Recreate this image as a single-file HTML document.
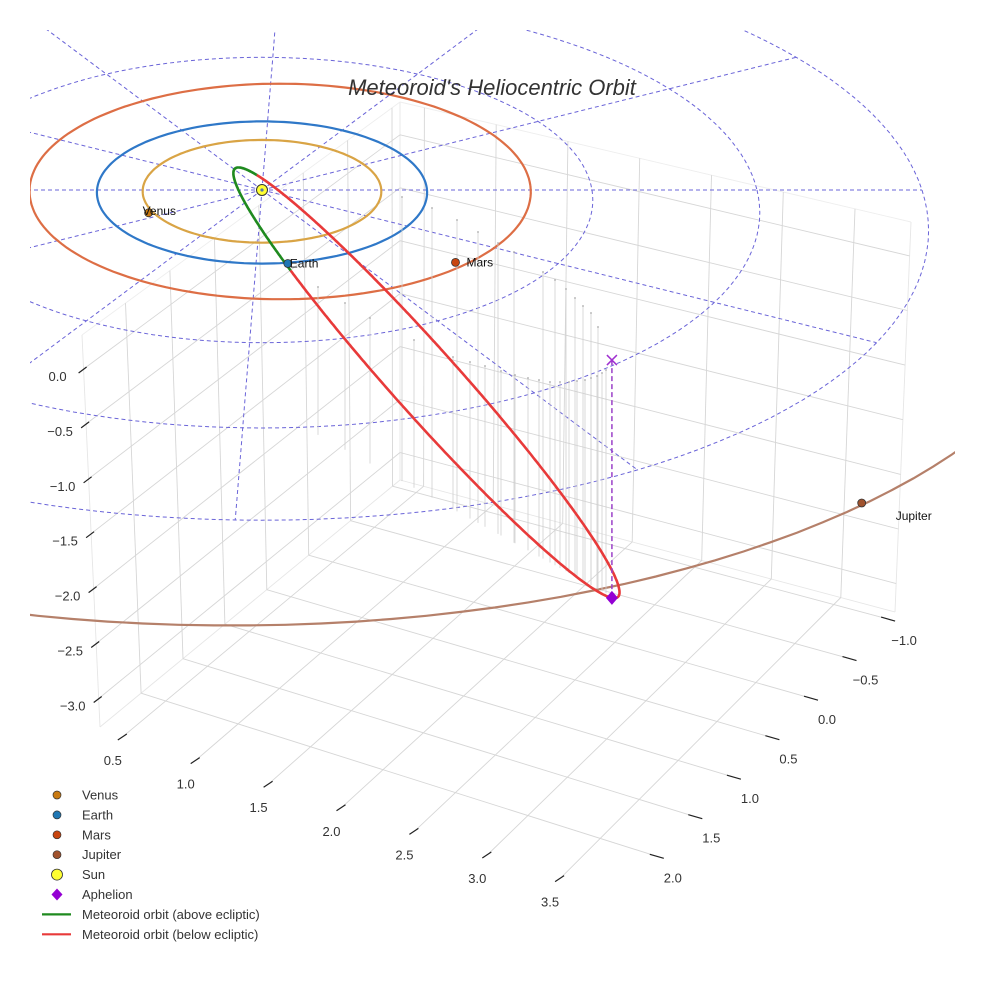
<!DOCTYPE html>
<html><head><meta charset="utf-8"><title>Meteoroid's Heliocentric Orbit</title>
<style>
html,body{margin:0;padding:0;background:#fff;}
svg{display:block;font-family:"Liberation Sans",sans-serif;}
</style></head>
<body>
<svg id="chart" width="984" height="984" viewBox="0 0 984 984" xmlns="http://www.w3.org/2000/svg">
<rect x="0" y="0" width="984" height="984" fill="#fff"/>
<defs><clipPath id="plotclip"><rect x="30" y="30" width="925" height="720"/></clipPath></defs>
<g id="box"></g>
<g id="overlay" clip-path="url(#plotclip)"></g>
<g id="marks"></g>
<text x="492" y="95" text-anchor="middle" font-size="22" font-style="italic" fill="#333">Meteoroid's Heliocentric Orbit</text>
<g id="legend"></g>
</svg>
<script>
// ---- axis data ----
const xRange = [0.33, 3.89];
const yRange = [-1.09, 2.49];
const zRange = [-3.26, 0.31];
const xTicks = [0.5, 1.0, 1.5, 2.0, 2.5, 3.0, 3.5];
const yTicks = [-1.0, -0.5, 0.0, 0.5, 1.0, 1.5, 2.0];
const zTicks = [0.0, -0.5, -1.0, -1.5, -2.0, -2.5, -3.0];
const xTickLabels = ["0.5","1.0","1.5","2.0","2.5","3.0","3.5"];
const yTickLabels = ["\u22121.0","\u22120.5","0.0","0.5","1.0","1.5","2.0"];
const zTickLabels = ["0.0","\u22120.5","\u22121.0","\u22121.5","\u22122.0","\u22122.5","\u22123.0"];
// ---- ecliptic data (AU, degrees) ----
const planetNames = ["Venus","Earth","Mars","Jupiter"];
const planetOrbitRadius = [0.723, 1.0, 1.52, 5.1];
const planetOrbitOffsetX = [0, 0, 0.11, -0.15];
const planetOrbitOffsetY = [0, 0, -0.06, -0.05];
const planetOrbitArcStart = [0, 0, 0, -15];
const planetOrbitArcEnd = [360, 360, 360, 200];
const planetLongitude = [155, 81.4, 41, 50.5];
const planetRadius = [0.75, 1.01, 1.5, 4.95];
const gridRings = [1, 2, 3, 4];
const gridSpokesDeg = [0, 30, 60, 92, 120, 150, 180, 210, 240, 272, 300, 330];
// meteoroid orbit
const perihelionDist = [0.19];
const aphelionDist = [3.294];
const aphelionDir = [0.594, 0.671, -0.444];
const nodeDir = [0.149, 0.989, 0];
// drop lines (screen estimates)
const dropTopX = [318,345,370,402,432,457,478,498,514,543,555,566,575,583,591,598,414,453,470,485,501,515,528,539,550,560,569,577,585,591,597,602,606];
const dropTopY = [287,303,318,197,208,220,232,243,252,272,280,289,298,306,313,327,340,357,362,366,371,375,378,380,382,382,382,381,380,378,376,373,370];

const NS = "http://www.w3.org/2000/svg";
function mk(tag, attrs, parent){const e=document.createElementNS(NS,tag);for(const k in attrs)e.setAttribute(k,attrs[k]);parent.appendChild(e);return e;}

// ---- 3D box projection (trilinear on screen corners) ----
const C = {"000":[400,480],"001":[400,102],"010":[100,727],"011":[82,335],
           "100":[895,612],"101":[911,222],"110":[619,895],"111":[617,495]};
function box(x,y,z){
  const u=(x-xRange[0])/(xRange[1]-xRange[0]), v=(y-yRange[0])/(yRange[1]-yRange[0]), w=(z-zRange[0])/(zRange[1]-zRange[0]);
  let sx=0, sy=0;
  for(const i of [0,1])for(const j of [0,1])for(const k of [0,1]){
    const f=(i?u:1-u)*(j?v:1-v)*(k?w:1-w); const c=C[""+i+j+k]; sx+=f*c[0]; sy+=f*c[1];
  }
  return [sx,sy];
}
const boxG=document.getElementById('box');
function gline(a,b,name,stroke,sw){
  const l=mk('line',{x1:a[0].toFixed(1),y1:a[1].toFixed(1),x2:b[0].toFixed(1),y2:b[1].toFixed(1),stroke:stroke||'#d6d6d6','stroke-width':sw||0.9},boxG);
  
  
}
const [x0,x1]=xRange,[y0,y1]=yRange,[z0,z1]=zRange;
gline(box(x0,y0,z0),box(x0,y0,z1),'pane-edge','#e6e6e6');
gline(box(x0,y1,z0),box(x0,y0,z0),'pane-edge','#e6e6e6');
gline(box(x0,y0,z0),box(x1,y0,z0),'pane-edge','#e6e6e6');
gline(box(x0,y1,z1),box(x0,y0,z1),'pane-edge','#eeeeee');
gline(box(x0,y0,z1),box(x1,y0,z1),'pane-edge','#eeeeee');
gline(box(x0,y1,z0),box(x0,y1,z1),'pane-edge','#e6e6e6');
gline(box(x1,y0,z0),box(x1,y0,z1),'pane-edge','#e6e6e6');
xTicks.forEach(t=>{ gline(box(t,y0,z0),box(t,y1,z0),'floor-grid-x'); gline(box(t,y0,z0),box(t,y0,z1),'wall-grid-x'); });
yTicks.forEach(t=>{ gline(box(x0,t,z0),box(x1,t,z0),'floor-grid-y'); gline(box(x0,t,z0),box(x0,t,z1),'wall-grid-y'); });
zTicks.forEach(t=>{ gline(box(x0,y0,t),box(x0,y1,t),'wall-grid-z'); gline(box(x0,y0,t),box(x1,y0,t),'wall-grid-z'); });
function tickText(p,txt,name){
  const t=mk('text',{x:p[0].toFixed(1),y:p[1].toFixed(1),'text-anchor':'middle','font-size':13,fill:'#333'},boxG);
  t.textContent=txt;
  
  
}
xTicks.forEach((t,i)=>{const p=box(t,y1,z0);gline([p[0]+2,p[1]-1],[p[0]-7,p[1]+5],'x-tick','#222',1.2);tickText([p[0]-12,p[1]+30],xTickLabels[i],'x-tick-label');});
yTicks.forEach((t,i)=>{const p=box(x1,t,z0);gline([p[0]-7,p[1]-2],[p[0]+7,p[1]+2],'y-tick','#222',1.2);tickText([p[0]+16,p[1]+26],yTickLabels[i],'y-tick-label');});
zTicks.forEach((t,i)=>{const p=box(x0,y1,t);gline([p[0]-5,p[1]+4],[p[0]+3,p[1]-2],'z-tick','#222',1.2);tickText([p[0]-26,p[1]+12],zTickLabels[i],'z-tick-label');});

// ---- ecliptic projection ----
function ep(X,Y,Z){const d=1-0.035*Y;return [262+165*X/d, 190+(71*Y-150*(Z||0))/d];}
const ov=document.getElementById('overlay');
function pathFrom(pts){return pts.map((p,i)=>(i?'L':'M')+p[0].toFixed(1)+' '+p[1].toFixed(1)).join(' ');}
function circlePts(r,ox,oy,a0,a1){const pts=[];for(let a=(a0||0);a<=(a1===undefined?360:a1);a+=2){const t=a*Math.PI/180;pts.push(ep(ox+r*Math.cos(t),oy+r*Math.sin(t),0));}return pts;}
gridRings.forEach(r=>{
  const p=mk('path',{d:pathFrom(circlePts(r,0,0)),fill:'none',stroke:'#6a64d8','stroke-width':1,'stroke-dasharray':'4 3'},ov);
  
  
});
gridSpokesDeg.forEach(a=>{
  const t=a*Math.PI/180, R=gridRings[gridRings.length-1];
  const pts=[];for(let k=0;k<=20;k++){const r=R*k/20;pts.push(ep(r*Math.cos(t),r*Math.sin(t),0));}
  const p=mk('path',{d:pathFrom(pts),fill:'none',stroke:'#6a64d8','stroke-width':1,'stroke-dasharray':'4 3'},ov);
  
  
});
const orbitColors=['#d9a445','#2f78c8','#dd6e45','#b5806a'];
const planetColors=['#c97a12','#1f77b4','#c8450f','#a0522d'];
planetNames.forEach((n,i)=>{
  const p=mk('path',{d:pathFrom(circlePts(planetOrbitRadius[i],planetOrbitOffsetX[i],planetOrbitOffsetY[i],planetOrbitArcStart[i],planetOrbitArcEnd[i])),fill:'none',stroke:orbitColors[i],'stroke-width':2.2},ov);
  
  
});

// ---- drop lines ----
const marks=document.getElementById('marks');
dropTopX.forEach((x,i)=>{
  const y=dropTopY[i], by=480+(x-400)*0.55;
  const l=mk('line',{x1:x,y1:y,x2:x,y2:by.toFixed(1),stroke:'#cfcfcf','stroke-width':0.8},marks);
  
  
  const c=mk('circle',{cx:x,cy:y,r:0.9,fill:'#aaa'},marks);
  
  
});

// ---- meteoroid orbit ----
function norm(v){const m=Math.hypot(v[0],v[1],v[2]);return v.map(c=>c/m);}
function cross(a,b){return [a[1]*b[2]-a[2]*b[1],a[2]*b[0]-a[0]*b[2],a[0]*b[1]-a[1]*b[0]];}
const P=norm(aphelionDir.map(c=>-c));
const Nn=norm(cross(P,norm(nodeDir)));
const Qv=cross(Nn,P);
const q=perihelionDist[0], Qd=aphelionDist[0];
const ecc=(Qd-q)/(Qd+q), semi=2*q*Qd/(q+Qd);
const segs=[];let cur=null;
for(let k=0;k<=1440;k++){
  const nu=-Math.PI+2*Math.PI*k/1440;
  const r=semi/(1+ecc*Math.cos(nu));
  const X=r*(Math.cos(nu)*P[0]+Math.sin(nu)*Qv[0]),Y=r*(Math.cos(nu)*P[1]+Math.sin(nu)*Qv[1]),Z=r*(Math.cos(nu)*P[2]+Math.sin(nu)*Qv[2]);
  const above=Z>=0;const pt=ep(X,Y,Z);
  if(!cur||cur.above!==above){if(cur)cur.pts.push(pt);cur={above,pts:[pt]};segs.push(cur);}else cur.pts.push(pt);
}
segs.forEach(s=>{
  const p=mk('path',{d:pathFrom(s.pts),fill:'none',stroke:s.above?'#1f8a1f':'#e83a3a','stroke-width':2.6,'stroke-linejoin':'round'},marks);
  
  
});
const aph=ep(aphelionDir[0]*Qd,aphelionDir[1]*Qd,aphelionDir[2]*Qd);
const aphProj=ep(aphelionDir[0]*Qd,aphelionDir[1]*Qd,0);
let e=mk('line',{x1:aphProj[0],y1:aphProj[1],x2:aph[0],y2:aph[1],stroke:'#9b40c8','stroke-width':1.5,'stroke-dasharray':'5 3'},marks);


e=mk('path',{d:`M${aphProj[0]-5} ${aphProj[1]-5}L${aphProj[0]+5} ${aphProj[1]+5}M${aphProj[0]+5} ${aphProj[1]-5}L${aphProj[0]-5} ${aphProj[1]+5}`,stroke:'#a030d0','stroke-width':1.5},marks);


e=mk('path',{d:`M${aph[0]} ${aph[1]-7}L${aph[0]+6} ${aph[1]}L${aph[0]} ${aph[1]+7}L${aph[0]-6} ${aph[1]}Z`,fill:'#9400d3'},marks);



const labelDx=[-6,2,11,34], labelDy=[2,4,4,17];
planetNames.forEach((n,i)=>{
  const t=planetLongitude[i]*Math.PI/180, r=planetRadius[i];
  const p=ep(r*Math.cos(t),r*Math.sin(t),0);
  const c=mk('circle',{cx:p[0].toFixed(1),cy:p[1].toFixed(1),r:4,fill:planetColors[i],stroke:'#333','stroke-width':0.8},marks);
  
  
  const tx=mk('text',{x:(p[0]+labelDx[i]).toFixed(1),y:(p[1]+labelDy[i]).toFixed(1),'font-size':12,fill:'#111'},marks);
  tx.textContent=n;
  
  
});
const sp=ep(0,0,0);
e=mk('circle',{cx:sp[0],cy:sp[1],r:5.5,fill:'#ffff33',stroke:'#333','stroke-width':1},marks);


e=mk('circle',{cx:sp[0],cy:sp[1],r:1.6,fill:'#5577aa'},marks);



// ---- legend ----
const legendLabels=["Venus","Earth","Mars","Jupiter","Sun","Aphelion","Meteoroid orbit (above ecliptic)","Meteoroid orbit (below ecliptic)"];
const lg=document.getElementById('legend');
legendLabels.forEach((lab,i)=>{
  const y=795+i*19.9, x=57;
  let m;
  if(i<4){m=mk('circle',{cx:x,cy:y,r:4,fill:planetColors[i],stroke:'#333','stroke-width':0.7},lg);}
  else if(i===4){m=mk('circle',{cx:x,cy:y,r:5.5,fill:'#ffff33',stroke:'#333','stroke-width':0.8},lg);}
  else if(i===5){m=mk('path',{d:`M${x} ${y-6}L${x+5.5} ${y}L${x} ${y+6}L${x-5.5} ${y}Z`,fill:'#9400d3'},lg);}
  else {m=mk('line',{x1:42,y1:y,x2:71,y2:y,stroke:i===6?'#1f8a1f':'#e83a3a','stroke-width':2.2},lg);}
  
  
  const t=mk('text',{x:82,y:y+4.5,'font-size':13,fill:'#333'},lg);
  t.textContent=lab;
  
  
});
</script>
</body></html>
